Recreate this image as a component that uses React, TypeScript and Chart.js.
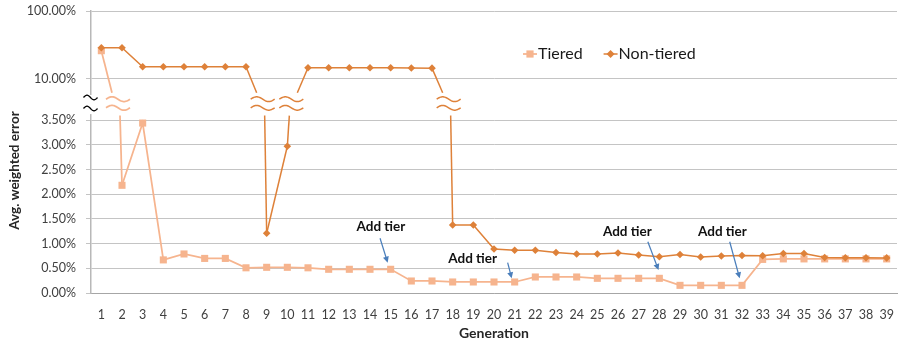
import { useEffect, useRef } from 'react';
import { Chart, registerables } from 'chart.js';

Chart.register(...registerables);

// ---------- data ----------
const generations = [
  '1', '2', '3', '4', '5', '6', '7', '8', '9', '10',
  '11', '12', '13', '14', '15', '16', '17', '18', '19', '20',
  '21', '22', '23', '24', '25', '26', '27', '28', '29', '30',
  '31', '32', '33', '34', '35', '36', '37', '38', '39',
];

// average weighted error, in percent
const tieredError = [
  25.9, 2.18, 3.44, 0.67, 0.79, 0.70, 0.70, 0.51, 0.52, 0.52,
  0.51, 0.48, 0.48, 0.48, 0.48, 0.243, 0.243, 0.223, 0.223, 0.223,
  0.223, 0.324, 0.324, 0.324, 0.297, 0.297, 0.297, 0.297, 0.155, 0.155,
  0.155, 0.155, 0.68, 0.69, 0.69, 0.69, 0.69, 0.69, 0.69,
];

const nonTieredError = [
  28.7, 28.7, 15.0, 15.0, 15.0, 15.0, 15.0, 15.0, 1.21, 2.97,
  14.5, 14.5, 14.5, 14.5, 14.5, 14.4, 14.3, 1.376, 1.376, 0.89,
  0.864, 0.864, 0.82, 0.79, 0.79, 0.81, 0.77, 0.735, 0.78, 0.73,
  0.75, 0.76, 0.755, 0.80, 0.80, 0.72, 0.715, 0.715, 0.71,
];

const seriesNames = ['Tiered', 'Non-tiered'];
const yTickValues = [0, 0.5, 1, 1.5, 2, 2.5, 3, 3.5, 10, 100];
const addTierGenerations = [15, 21, 28, 32];
const addTierLabel = 'Add tier';
const xTitle = 'Generation';
const yTitle = 'Avg. weighted error';

const rawSeries = [tieredError, nonTieredError];

// ---------- broken axis mapping ----------
const LOW_MAX = 3.5;
const HIGH_MIN = 10;
const GAP_UNITS = 0.838;
const DECADE_UNITS = 1.37;
const toAxis = (v: number) =>
  v <= LOW_MAX ? v : LOW_MAX + GAP_UNITS + DECADE_UNITS * Math.log10(v / HIGH_MIN);

// ---------- styles ----------
const TIERED_COLOR = '#F6B48E';
const NONTIERED_COLOR = '#DE8139';
const ARROW_COLOR = '#4A7EBB';
const FONT = 'Lato, "Open Sans", sans-serif';
const TEXT_COLOR = '#404040';

// annotation layout (pixel offsets relative to the targeted Tiered point)
const annotationLayout = [
  { tip: [-3, -6.6], tail: [-7.6, -24.4], text: [-6.8, -36] },
  { tip: [-3, -3.7], tail: [-4, -15.6], text: [-39, -19.3] },
  { tip: [-0.8, -8.3], tail: [-10.7, -28.3], text: [-31.2, -38] },
  { tip: [-2.3, -7], tail: [-10, -36.6], text: [-17.3, -46.3] },
];

function wave(ctx: CanvasRenderingContext2D, cx: number, cy: number, w: number, amp: number) {
  ctx.beginPath();
  const steps = 30;
  for (let i = 0; i <= steps; i++) {
    const t = i / steps;
    const x = cx - w / 2 + w * t;
    const y = cy - amp * Math.sin(2 * Math.PI * t);
    if (i === 0) ctx.moveTo(x, y);
    else ctx.lineTo(x, y);
  }
  ctx.stroke();
}

const crosses = (arr: number[], i: number, j: number) =>
  (arr[i] >= HIGH_MIN) !== (arr[j] >= HIGH_MIN);

const brokenAxisPlugin = {
  id: 'brokenAxis',
  beforeDatasetsDraw(chart: any) {
    const { ctx, chartArea } = chart;
    const y = chart.scales.y;
    const yHigh = y.getPixelForValue(toAxis(HIGH_MIN));
    const yLow = y.getPixelForValue(LOW_MAX);
    const mid = (yHigh + yLow) / 2;
    ctx.save();
    // break in the value axis line
    ctx.fillStyle = '#ffffff';
    ctx.fillRect(chartArea.left - 4, yHigh + 16.3, 8, yLow - 6 - (yHigh + 16.3));
    ctx.strokeStyle = '#000000';
    ctx.lineWidth = 1.3;
    wave(ctx, chartArea.left - 0.5, mid - 1.9, 14, 2.3);
    wave(ctx, chartArea.left - 0.5, mid + 9.1, 14, 2.3);

    // series lines crossing the break
    chart.data.datasets.forEach((ds: any, di: number) => {
      const meta = chart.getDatasetMeta(di);
      const raw = rawSeries[di];
      for (let i = 0; i < raw.length - 1; i++) {
        if (!crosses(raw, i, i + 1)) continue;
        const aHigh = raw[i] >= HIGH_MIN;
        const pH = meta.data[aHigh ? i : i + 1];
        const pL = meta.data[aHigh ? i + 1 : i];
        const d = Math.sign(pL.x - pH.x) || 1;
        const xc = pL.x - 4 * d;
        ctx.strokeStyle = ds.borderColor;
        ctx.lineWidth = ds.borderWidth;
        ctx.beginPath();
        ctx.moveTo(pH.x, pH.y);
        ctx.lineTo(xc - 6 * d, yHigh + 14);
        ctx.stroke();
        ctx.beginPath();
        ctx.moveTo(pL.x, pL.y);
        ctx.lineTo(pL.x - 2 * d, yLow - 4.5);
        ctx.stroke();
        wave(ctx, xc, mid - 0.2, 24, 2.4);
        wave(ctx, xc, mid + 8.4, 24, 2.4);
      }
    });
    ctx.restore();
  },
  afterDatasetsDraw(chart: any) {
    const { ctx, chartArea } = chart;
    ctx.save();
    // annotations
    const meta0 = chart.getDatasetMeta(0);
    addTierGenerations.forEach((g, k) => {
      const p = meta0.data[generations.indexOf(String(g))];
      const a = annotationLayout[k];
      const tx = p.x + a.tip[0];
      const ty = p.y + a.tip[1];
      const sx = tx + a.tail[0];
      const sy = ty + a.tail[1];
      ctx.strokeStyle = ARROW_COLOR;
      ctx.fillStyle = ARROW_COLOR;
      ctx.lineWidth = 1.25;
      const ang = Math.atan2(ty - sy, tx - sx);
      const headLen = 6;
      ctx.beginPath();
      ctx.moveTo(sx, sy);
      ctx.lineTo(tx - headLen * 0.7 * Math.cos(ang), ty - headLen * 0.7 * Math.sin(ang));
      ctx.stroke();
      ctx.beginPath();
      ctx.moveTo(tx, ty);
      ctx.lineTo(tx - headLen * Math.cos(ang) + 3 * Math.sin(ang), ty - headLen * Math.sin(ang) - 3 * Math.cos(ang));
      ctx.lineTo(tx - headLen * Math.cos(ang) - 3 * Math.sin(ang), ty - headLen * Math.sin(ang) + 3 * Math.cos(ang));
      ctx.closePath();
      ctx.fill();
      ctx.fillStyle = '#111111';
      ctx.font = `bold 13.5px ${FONT}`;
      ctx.textAlign = 'center';
      ctx.textBaseline = 'middle';
      ctx.fillText(addTierLabel, tx + a.text[0], ty + a.text[1]);
    });

    // legend
    ctx.font = `16px ${FONT}`;
    ctx.textAlign = 'left';
    ctx.textBaseline = 'alphabetic';
    let lx = chartArea.left + 432;
    const markerY = chartArea.top + 43;
    const baseY = chartArea.top + 48.3;
    chart.data.datasets.forEach((ds: any, di: number) => {
      ctx.strokeStyle = ds.borderColor;
      ctx.fillStyle = ds.borderColor;
      ctx.lineWidth = ds.borderWidth;
      ctx.beginPath();
      ctx.moveTo(lx, markerY);
      ctx.lineTo(lx + 14, markerY);
      ctx.stroke();
      const cx = lx + 7;
      ctx.beginPath();
      if (di === 0) {
        ctx.rect(cx - 3.6, markerY - 3.6, 7.2, 7.2);
      } else {
        ctx.moveTo(cx - 4, markerY);
        ctx.lineTo(cx, markerY - 4);
        ctx.lineTo(cx + 4, markerY);
        ctx.lineTo(cx, markerY + 4);
        ctx.closePath();
      }
      ctx.fill();
      ctx.fillStyle = '#1a1a1a';
      const label = ds.label;
      ctx.fillText(label, lx + 15, baseY);
      lx += 15 + ctx.measureText(label).width + 21;
    });

    // value axis title
    ctx.save();
    ctx.translate(14.5, chartArea.top + 159.5);
    ctx.rotate(-Math.PI / 2);
    ctx.font = `bold 13.5px ${FONT}`;
    ctx.fillStyle = '#262626';
    ctx.textAlign = 'center';
    ctx.textBaseline = 'middle';
    ctx.fillText(yTitle, 0, 0);
    ctx.restore();
    ctx.restore();
  },
};

export default function App() {
  const canvasRef = useRef<HTMLCanvasElement | null>(null);

  useEffect(() => {
    document.body.style.margin = '0';
    const canvas = canvasRef.current;
    if (!canvas) return;
    const makeSeg = (di: number) => ({
      borderColor: (c: any) =>
        crosses(rawSeries[di], c.p0DataIndex, c.p1DataIndex) ? 'rgba(0,0,0,0)' : undefined,
    });
    const chart = new Chart(canvas, {
      type: 'line',
      data: {
        labels: generations,
        datasets: [
          {
            label: seriesNames[0],
            data: tieredError.map(toAxis),
            borderColor: TIERED_COLOR,
            backgroundColor: TIERED_COLOR,
            borderWidth: 1.75,
            pointStyle: 'rect',
            pointRadius: 5,
            pointBorderWidth: 0,
            pointBackgroundColor: TIERED_COLOR,
            pointBorderColor: TIERED_COLOR,
            order: 1,
            segment: makeSeg(0),
          },
          {
            label: seriesNames[1],
            data: nonTieredError.map(toAxis),
            borderColor: NONTIERED_COLOR,
            backgroundColor: NONTIERED_COLOR,
            borderWidth: 1.5,
            pointStyle: 'rectRot',
            pointRadius: 3.8,
            pointBorderWidth: 0,
            pointBackgroundColor: NONTIERED_COLOR,
            pointBorderColor: NONTIERED_COLOR,
            order: 0,
            segment: makeSeg(1),
          },
        ],
      },
      options: {
        animation: false,
        responsive: true,
        maintainAspectRatio: false,
        events: [],
        layout: { padding: { left: 0, top: 11, right: 0.6, bottom: 0 } },
        plugins: {
          legend: { display: false },
          tooltip: { enabled: false },
        },
        scales: {
          x: {
            type: 'category',
            offset: true,
            grid: { display: false },
            border: { display: true, color: '#A6A6A6', width: 1 },
            ticks: {
              color: TEXT_COLOR,
              font: { family: FONT, size: 12.5 },
              padding: 6,
              maxRotation: 0,
              autoSkip: false,
            },
            title: {
              display: true,
              text: xTitle,
              color: '#262626',
              font: { family: FONT, size: 14, weight: 'bold' },
              padding: { top: 0, bottom: 3 },
            },
            afterFit: (scale: any) => {
              scale.height = 52;
              scale.paddingLeft = 0;
              scale.paddingRight = 0;
            },
          },
          y: {
            type: 'linear',
            min: 0,
            max: toAxis(100),
            grid: { color: '#C4C4C4', tickLength: 5, lineWidth: 1 },
            border: { display: true, color: '#B8B8B8', width: 1.5 },
            afterBuildTicks: (scale: any) => {
              scale.ticks = yTickValues.map((v) => ({ value: toAxis(v) }));
            },
            ticks: {
              color: TEXT_COLOR,
              font: { family: FONT, size: 12.5 },
              padding: 10,
              autoSkip: false,
              callback: (_v: any, i: number) => yTickValues[i].toFixed(2) + '%',
            },
            afterFit: (scale: any) => {
              scale.width = 91;
              scale.paddingTop = 0;
              scale.paddingBottom = 0;
            },
          },
        },
      } as any,
      plugins: [brokenAxisPlugin],
    });
    return () => chart.destroy();
  }, []);

  return (
    <div style={{ width: 902, height: 345, position: 'relative' }}>
      <canvas ref={canvasRef} />
    </div>
  );
}
